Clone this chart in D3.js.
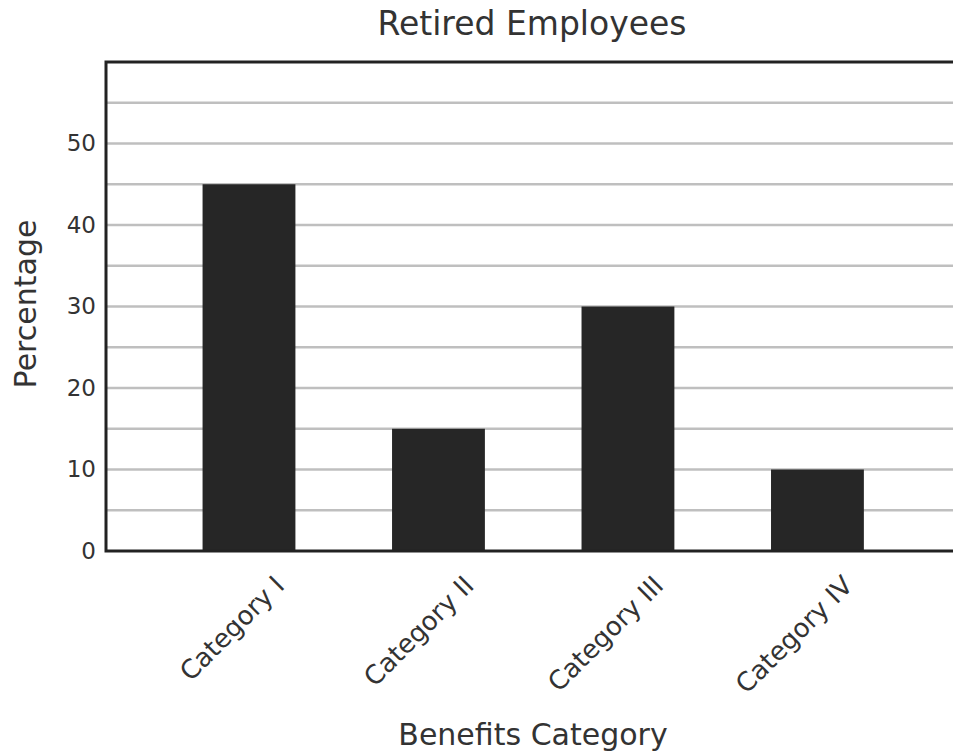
<!DOCTYPE html>
<html>
<head>
<meta charset="utf-8">
<script src="https://cdn.jsdelivr.net/npm/d3@7"></script>
<style>
  body { margin: 0; background: #fff; }
  text { font-family: "DejaVu Sans", Verdana, sans-serif; fill: #333; }
</style>
</head>
<body>
<div class="chart"></div>
<script>
var svgWidth = 953;
var svgHeight = 753;

// data
var categories = ["Category I", "Category II", "Category III", "Category IV"];
var percentages = [45, 15, 30, 10];
var yTicks = [0, 10, 20, 30, 40, 50];
var gridValues = [5, 10, 15, 20, 25, 30, 35, 40, 45, 50, 55];

var margin = { top: 62, right: 0, bottom: 202, left: 106 };
var width = svgWidth - margin.left - margin.right;
var height = svgHeight - margin.top - margin.bottom;

var svg = d3.select(".chart")
  .append("svg")
  .attr("width", svgWidth)
  .attr("height", svgHeight);

var chartGroup = svg.append("g")
  .attr("transform", `translate(${margin.left}, ${margin.top})`);

var xScale = d3.scaleBand()
  .domain(categories)
  .range([0, width])
  .paddingInner(0.51)
  .paddingOuter(0.49)
  .align(0.52);

var yScale = d3.scaleLinear()
  .domain([0, 60])
  .range([height, 0]);

// gridlines
chartGroup.selectAll(".grid")
  .data(gridValues)
  .enter()
  .append("line")
  .attr("class", "grid")
  .attr("x1", 0)
  .attr("x2", width)
  .attr("y1", d => yScale(d))
  .attr("y2", d => yScale(d))
  .attr("stroke", "#bfbfbf")
  .attr("stroke-width", 2.5);

// bars
chartGroup.selectAll("rect")
  .data(percentages)
  .enter()
  .append("rect")
  .attr("x", (d, i) => xScale(categories[i]))
  .attr("y", d => yScale(d))
  .attr("width", xScale.bandwidth())
  .attr("height", d => height - yScale(d))
  .attr("fill", "#262626");

// y axis labels
var leftAxis = d3.axisLeft(yScale)
  .tickValues(yTicks)
  .tickSize(0)
  .tickPadding(10);

var yAxisG = chartGroup.append("g").call(leftAxis);
yAxisG.select(".domain").remove();
yAxisG.selectAll("text")
  .style("font-size", "23px")
  .attr("fill", "#333");

// x axis labels (rotated)
var bottomAxis = d3.axisBottom(xScale).tickSize(0).tickFormat("");
var xAxisG = chartGroup.append("g")
  .attr("transform", `translate(0, ${height})`)
  .call(bottomAxis);
xAxisG.select(".domain").remove();

xAxisG.selectAll(".tick")
  .append("text")
  .attr("text-anchor", "end")
  .attr("transform", "translate(37, 36) rotate(-45)")
  .style("font-size", "26px")
  .text(d => d);

// frame: top, left, bottom
chartGroup.append("path")
  .attr("d", `M${width},0H0V${height}H${width}`)
  .attr("fill", "none")
  .attr("stroke", "#222")
  .attr("stroke-width", 3);

// titles
svg.append("text")
  .attr("x", 532)
  .attr("y", 35)
  .attr("text-anchor", "middle")
  .style("font-size", "33px")
  .text("Retired Employees");

svg.append("text")
  .attr("x", 533)
  .attr("y", 745)
  .attr("text-anchor", "middle")
  .style("font-size", "30px")
  .text("Benefits Category");

svg.append("text")
  .attr("transform", "translate(36, 304) rotate(-90)")
  .attr("text-anchor", "middle")
  .style("font-size", "30px")
  .text("Percentage");
</script>
</body>
</html>
